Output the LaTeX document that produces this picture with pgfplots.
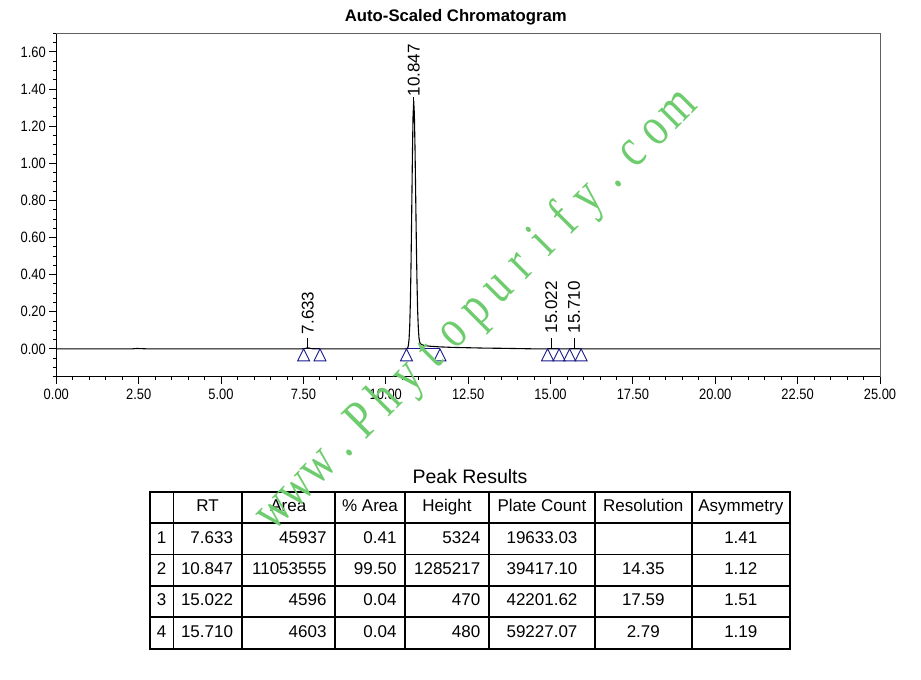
\documentclass[border=0pt]{standalone}
\usepackage{fontspec}
\setmainfont{Liberation Sans}
\newfontfamily\tickfont{Liberation Sans}[FakeStretch=0.86]
\newfontfamily\wmfont{Liberation Serif}[FakeStretch=0.78]
\usepackage{pgfplots}
\pgfplotsset{compat=1.18}
\definecolor{pkblue}{RGB}{25,25,140}
\definecolor{wmgreen}{RGB}{110,204,110}
\definecolor{framegray}{RGB}{95,95,95}
\pgfdeclareplotmark{tridown}{%
  \pgfpathmoveto{\pgfqpoint{0pt}{0pt}}%
  \pgfpathlineto{\pgfqpoint{-6pt}{-12pt}}%
  \pgfpathlineto{\pgfqpoint{6pt}{-12pt}}%
  \pgfpathclose
  \pgfusepathqstroke}
\newcommand\wm[1]{\makebox[31.7pt]{#1}}
\newcommand\tf{\fontsize{17pt}{17pt}\selectfont}
\begin{document}
\begin{tikzpicture}[x=1pt,y=1pt]
\useasboundingbox (0,0) rectangle (921,680);
\node[anchor=base, inner sep=0, font=\bfseries\fontsize{16.7pt}{17pt}\selectfont] at (455.8,658.7) {Auto-Scaled Chromatogram};
\begin{axis}[
  at={(56.3pt,303.3pt)}, anchor=south west, scale only axis,
  width=823.7pt, height=343.4pt,
  xmin=0, xmax=25, ymin=-0.15, ymax=1.70,
  axis lines=left, axis line style={-, line width=1pt, black},
  tick align=outside,
  xtick={0,2.5,5,7.5,10,12.5,15,17.5,20,22.5,25},
  minor xtick={0,0.5,...,25},
  ytick={0,0.2,0.4,0.6,0.8,1.0,1.2,1.4,1.6},
  minor ytick={-0.15,-0.1,...,1.69},
  major tick length=7pt, minor tick length=3.5pt,
  tick style={black, line width=0.8pt},
  ticklabel style={font=\tickfont\fontsize{15pt}{15pt}\selectfont},
  xticklabel style={yshift=-1.5pt},
  /pgf/number format/fixed,
  /pgf/number format/fixed zerofill,
  /pgf/number format/precision=2,
  /pgf/number format/assume math mode=true,
  clip=false,
]
\draw[framegray, line width=1pt] (rel axis cs:0,1) -- (rel axis cs:1,1) -- (rel axis cs:1,0);
% integration baselines
\addplot[pkblue, line width=0.9pt, forget plot] coordinates {(7.505,0) (8.003,0)};
\addplot[pkblue, line width=0.9pt, forget plot] coordinates {(10.63,0) (11.645,0)};
\addplot[pkblue, line width=0.9pt, forget plot] coordinates {(14.91,0) (15.26,0)};
\addplot[pkblue, line width=0.9pt, forget plot] coordinates {(15.58,0) (15.93,0)};
% chromatogram trace
\addplot[black, line width=1.1pt] coordinates {
(0,0) (2.3,0) (2.45,0.002) (2.6,0.001) (2.75,0) (7.45,0) (7.55,0.0016) (7.6,0.0045) (7.633,0.0053)
(7.67,0.0045) (7.72,0.0018) (7.8,0.0004) (7.9,0) (10.597,0)
(10.647,0.0018) (10.667,0.0063) (10.687,0.0194) (10.707,0.0523) (10.727,0.1236)
(10.747,0.2557) (10.767,0.4635) (10.787,0.7364) (10.807,1.0248) (10.827,1.2496)
(10.847,1.335)
(10.867,1.267) (10.887,1.084) (10.907,0.836) (10.927,0.580) (10.947,0.364)
(10.967,0.205) (10.987,0.115) (11.007,0.06) (11.027,0.038) (11.047,0.028)
(11.1,0.022) (11.2,0.017) (11.35,0.014) (11.6,0.011) (12.0,0.008) (12.5,0.006)
(13.0,0.004) (13.5,0.003) (14.0,0.0015) (14.5,0) 
(14.95,0.0002) (15.022,0.0005) (15.1,0.0002) (15.6,0.0002) (15.71,0.0005) (15.8,0.0002)
(16,0) (25,0)};
% peak start/end markers
\addplot[pkblue, only marks, mark=tridown, mark options={line width=0.9pt}] coordinates {
(7.505,0) (8.003,0) (10.63,0) (11.645,0) (14.91,0) (15.26,0) (15.58,0) (15.93,0)};
% peak labels
\draw[black, line width=0.8pt] (axis cs:7.633,0.005) -- (axis cs:7.633,0.057);
\draw[black, line width=0.8pt] (axis cs:10.847,1.335) -- (axis cs:10.847,1.357);
\draw[black, line width=0.8pt] (axis cs:15.022,0.0005) -- (axis cs:15.022,0.057);
\draw[black, line width=0.8pt] (axis cs:15.71,0.0005) -- (axis cs:15.71,0.057);
\node[rotate=90, anchor=west, inner sep=0, font=\tf] at (axis cs:7.633,0.078) {7.633};
\node[rotate=90, anchor=west, inner sep=0, font=\tf] at (axis cs:10.847,1.360) {10.847};
\node[rotate=90, anchor=west, inner sep=0, font=\tf] at (axis cs:15.022,0.083) {15.022};
\node[rotate=90, anchor=west, inner sep=0, font=\tf] at (axis cs:15.71,0.083) {15.710};
\end{axis}
% Peak Results table
\node[anchor=base, inner sep=0, font=\fontsize{19.5pt}{20pt}\selectfont] at (470,196) {Peak Results};
\foreach \y in {157,125.6,94.2,62.8} \draw[line width=1.6pt] (150,\y) -- (790,\y);
\foreach \x in {173.3,241.7,335,405,489,595,691.7} \draw[line width=1.6pt] (\x,188.3) -- (\x,31.4);
\draw[line width=2pt] (150,188.3) rectangle (790,31.4);
\begin{scope}[every node/.style={inner sep=0, font=\tf}]
% header
\node[anchor=base] at (207.5,168.2) {RT};
\node[anchor=base] at (288.3,168.2) {Area};
\node[anchor=base] at (370,168.2) {\% Area};
\node[anchor=base] at (447,168.2) {Height};
\node[anchor=base] at (542,168.2) {Plate Count};
\node[anchor=base] at (643.3,168.2) {Resolution};
\node[anchor=base] at (740.8,168.2) {Asymmetry};
% rows
\foreach \yb/\n/\rt/\ar/\pa/\h/\pc/\rs/\as in {
 136.8/1/7.633/45937/0.41/5324/19633.03//1.41,
 105.4/2/10.847/11053555/99.50/1285217/39417.10/14.35/1.12,
 74/3/15.022/4596/0.04/470/42201.62/17.59/1.51,
 42.6/4/15.710/4603/0.04/480/59227.07/2.79/1.19}{
  \node[anchor=base] at (161.7,\yb) {\n};
  \node[anchor=base east] at (233.2,\yb) {\rt};
  \node[anchor=base east] at (326.7,\yb) {\ar};
  \node[anchor=base east] at (396.7,\yb) {\pa};
  \node[anchor=base east] at (480.5,\yb) {\h};
  \node[anchor=base] at (542,\yb) {\pc};
  \node[anchor=base] at (643.3,\yb) {\rs};
  \node[anchor=base] at (740.8,\yb) {\as};
}
\end{scope}
% watermark
\node[anchor=base west, rotate=45, inner sep=0, text=wmgreen, font=\wmfont\fontsize{55pt}{55pt}\selectfont] at (272.7,146.8)
 {\wm{w}\wm{w}\wm{w}\wm{.}\wm{P}\wm{h}\wm{y}\wm{t}\wm{o}\wm{p}\wm{u}\wm{r}\wm{i}\wm{f}\wm{y}\wm{.}\wm{c}\wm{o}\wm{m}};
\end{tikzpicture}
\end{document}
